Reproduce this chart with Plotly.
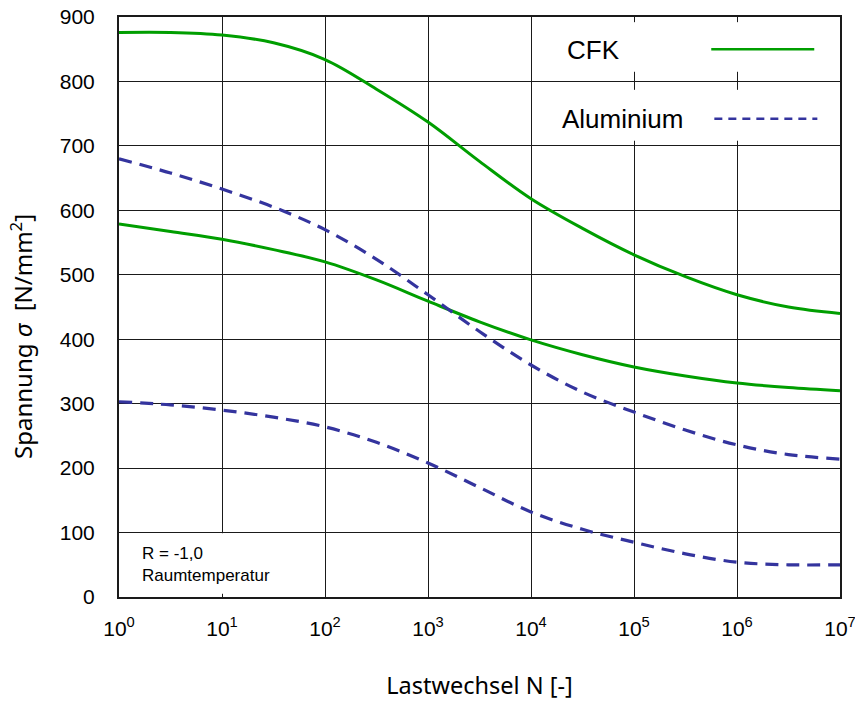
import plotly.graph_objects as go

# ---- data (log10 of load cycles N, stress in N/mm^2) ----
log_n = [0, 0.5, 1, 1.5, 2, 2.5, 3, 3.5, 4, 4.5, 5, 5.5, 6, 6.5, 7]
cfk_upper = [876, 876, 872, 860, 834, 788, 737, 676, 618, 572, 531, 497, 469, 450, 440]
cfk_lower = [579, 567, 555, 539, 520, 492, 459, 427, 399, 376, 357, 343, 332, 325, 320]
alu_upper = [680, 658, 633, 605, 570, 524, 469, 412, 360, 318, 287, 259, 236, 221, 214]
alu_lower = [303, 298, 290, 279, 264, 240, 208, 170, 132, 105, 85, 67, 54, 50, 50]

x_tickvals = [1, 10, 100, 1000, 1e4, 1e5, 1e6, 1e7]
x_ticktext = ["10<sup>%d</sup>" % i for i in range(8)]
y_tickvals = [0, 100, 200, 300, 400, 500, 600, 700, 800, 900]

N = [10 ** v for v in log_n]

GREEN = "rgb(0,158,0)"
BLUE = "rgb(52,52,158)"
GRID = "#1a1a1a"

fig = go.Figure()
for ys in (cfk_upper, cfk_lower):
    fig.add_trace(go.Scatter(x=N, y=ys, mode="lines", showlegend=False,
                             line=dict(color=GREEN, width=3, shape="spline", smoothing=1.0)))
for ys in (alu_upper, alu_lower):
    fig.add_trace(go.Scatter(x=N, y=ys, mode="lines", showlegend=False,
                             line=dict(color=BLUE, width=3.2, shape="spline", smoothing=1.0,
                                       dash="13px,8px")))

shapes = []
# gaps in vertical grid lines behind the legend and the info box
for xv in (1e5, 1e6):
    for (a, b) in ((815, 892), (708, 787)):
        shapes.append(dict(type="line", xref="x", yref="y", x0=xv, x1=xv, y0=a, y1=b,
                           line=dict(color="white", width=4), layer="above"))
shapes.append(dict(type="line", xref="x", yref="y", x0=10, x1=10, y0=5, y1=99,
                   line=dict(color="white", width=4), layer="above"))
# legend sample lines
shapes.append(dict(type="line", xref="x", yref="y", x0=10 ** 5.75, x1=10 ** 6.75, y0=850, y1=850,
                   line=dict(color=GREEN, width=2.5), layer="above"))
shapes.append(dict(type="line", xref="x", yref="y", x0=10 ** 5.78, x1=10 ** 6.78, y0=742, y1=742,
                   line=dict(color=BLUE, width=2.5, dash="8px,6px"), layer="above"))

annotations = [
    dict(text="CFK", xref="x", yref="y", x=4.33, y=849, showarrow=False, xanchor="left",
         yanchor="middle", font=dict(family="Liberation Sans, Arial", size=26, color="black")),
    dict(text="Aluminium", xref="x", yref="y", x=4.28, y=742, showarrow=False, xanchor="left",
         yanchor="middle", font=dict(family="Liberation Sans, Arial", size=26, color="black")),
    dict(text="R = -1,0<br>Raumtemperatur", xref="x", yref="y", x=0.2, y=50, showarrow=False,
         xanchor="left", yanchor="middle", align="left",
         font=dict(family="Liberation Sans, Arial", size=17, color="black")),
    dict(text="Spannung <i>σ</i>  [N/mm<sup>2</sup>]", xref="paper", yref="paper",
         x=-0.136, y=0.45, textangle=-90, showarrow=False, xanchor="center", yanchor="middle",
         font=dict(family="Noto Sans", size=24, color="black")),
]

fig.update_layout(
    width=855, height=704,
    margin=dict(l=119, r=15, t=17, b=107),
    paper_bgcolor="white", plot_bgcolor="white",
    shapes=shapes, annotations=annotations,
    xaxis=dict(type="log", range=[0, 7], tickvals=x_tickvals, ticktext=x_ticktext,
               showgrid=True, gridcolor=GRID, gridwidth=1.3, zeroline=False,
               showline=True, linecolor=GRID, linewidth=2, mirror=True,
               ticks="", ticklabelstandoff=12, automargin=False, ticklabeloverflow="allow",
               tickfont=dict(family="Liberation Sans, Arial", size=21, color="black"),
               title=dict(text="Lastwechsel N [-]", standoff=38,
                          font=dict(family="Noto Sans", size=23.5, color="black"))),
    yaxis=dict(range=[0, 900], tickvals=y_tickvals, showgrid=True, gridcolor=GRID,
               gridwidth=1.3, zeroline=False, showline=True, linecolor=GRID, linewidth=2,
               mirror=True, ticks="", ticklabelstandoff=18, automargin=False,
               ticklabeloverflow="allow",
               tickfont=dict(family="Liberation Sans, Arial", size=21, color="black")),
)

fig.write_html("out.html", config={"displayModeBar": False},
               post_script="document.body.style.margin='0';")
